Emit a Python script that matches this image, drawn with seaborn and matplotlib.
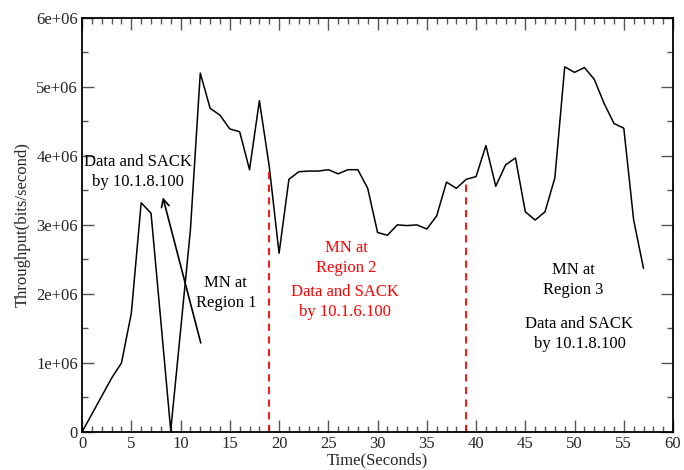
import matplotlib
matplotlib.use("Agg")
import matplotlib.pyplot as plt
import seaborn as sns
import pandas as pd

# Throughput samples, one per second
time_s = list(range(0, 58))
throughput = [
    0.0, 0.26e6, 0.52e6, 0.78e6, 1.0e6, 1.72e6, 3.32e6, 3.17e6, 1.6e6, 0.02e6,
    1.47e6, 2.93e6, 5.2e6, 4.69e6, 4.59e6, 4.39e6, 4.35e6, 3.80e6, 4.80e6, 3.85e6,
    2.59e6, 3.66e6, 3.77e6, 3.78e6, 3.78e6, 3.80e6, 3.74e6, 3.80e6, 3.80e6, 3.53e6,
    2.89e6, 2.85e6, 3.00e6, 2.99e6, 3.00e6, 2.94e6, 3.13e6, 3.62e6, 3.53e6, 3.66e6,
    3.70e6, 4.15e6, 3.56e6, 3.87e6, 3.97e6, 3.19e6, 3.07e6, 3.19e6, 3.68e6, 5.29e6,
    5.21e6, 5.28e6, 5.11e6, 4.76e6, 4.47e6, 4.40e6, 3.07e6, 2.37e6,
]

# Handover instants (seconds)
handover_times = [19, 39]

region_labels = ["MN at\nRegion 1", "MN at\nRegion 2", "MN at\nRegion 3"]
sender_labels = ["Data and SACK\nby 10.1.8.100", "Data and SACK\nby 10.1.6.100",
                 "Data and SACK\nby 10.1.8.100"]

df = pd.DataFrame({"Time": time_s, "Throughput": throughput})

sns.set_theme(style="ticks")
plt.rcParams["font.family"] = ["Liberation Serif", "DejaVu Serif"]
plt.rcParams["mathtext.fontset"] = "stix"

fig = plt.figure(figsize=(6.84, 4.70), dpi=100)
ax = fig.add_axes([0.12, 0.081, 0.864, 0.881])

sns.lineplot(data=df, x="Time", y="Throughput", ax=ax, color="black",
             linewidth=1.1, legend=False)

# Handover markers rise from the axis to the curve
for t in handover_times:
    ax.plot([t, t], [0, throughput[t]], color="red", linestyle=(0, (4, 3)),
            linewidth=1.3)

txt = dict(fontsize=12, ha="center", va="center", linespacing=1.3)
ax.text(5.7, 3.77e6, sender_labels[0], color="black", **txt)
ax.text(14.6, 2.01e6, region_labels[0], color="black", **txt)
ax.text(26.8, 2.52e6, region_labels[1], color="red", **txt)
ax.text(26.7, 1.88e6, sender_labels[1], color="red", **txt)
ax.text(49.9, 2.2e6, region_labels[2], color="black", **txt)
ax.text(50.5, 1.42e6, sender_labels[2], color="black", **txt)

ax.annotate("", xy=(8.2, 3.40e6), xytext=(12.05, 1.29e6),
            arrowprops=dict(arrowstyle="->", color="black", lw=1.2,
                            mutation_scale=14, shrinkA=0, shrinkB=0))

ax.set_xlim(0, 60)
ax.set_ylim(0, 6e6)
ax.set_xticks(range(0, 61, 5))
ax.set_xticks(range(0, 61, 1), minor=True)
ax.set_yticks([0, 1e6, 2e6, 3e6, 4e6, 5e6, 6e6])
ax.set_yticklabels(["0", "1e+06", "2e+06", "3e+06", "4e+06", "5e+06", "6e+06"])
ax.set_yticks([i * 0.5e6 for i in range(13)], minor=True)

ax.tick_params(which="both", direction="in", top=True, right=True,
               labelsize=12, color="#555555", width=1.0, pad=3)
ax.tick_params(which="major", length=8.5)
ax.tick_params(which="minor", length=4.5)
for s in ax.spines.values():
    s.set_color("black")
    s.set_linewidth(1.3)

ax.set_xlabel("Time(Seconds)", fontsize=12, labelpad=0)
ax.set_ylabel("Throughput(bits/second)", fontsize=12, labelpad=4)

fig.savefig("out.png", dpi=100)
